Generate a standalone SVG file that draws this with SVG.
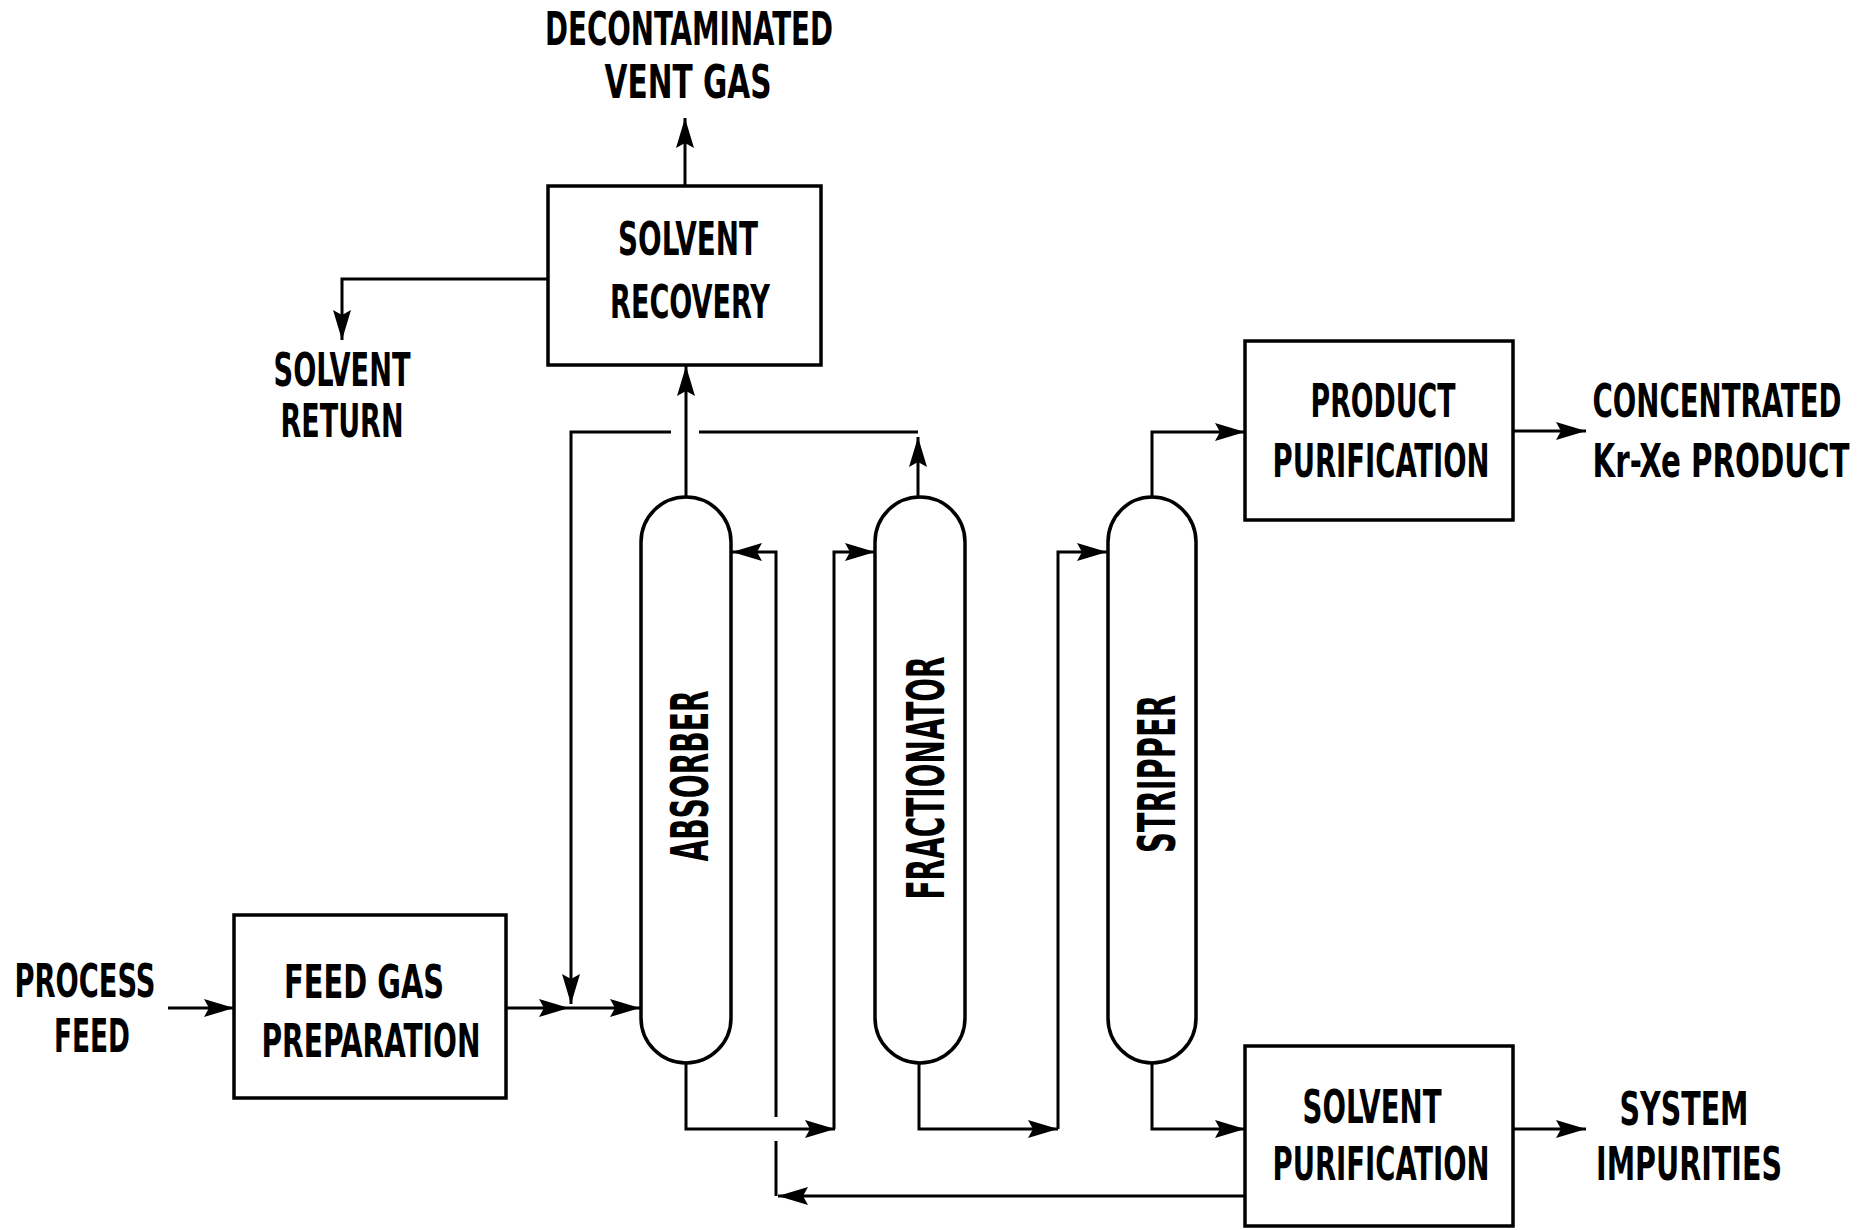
<svg xmlns="http://www.w3.org/2000/svg" width="1857" height="1230" viewBox="0 0 1857 1230">
<style>
.box{fill:none;stroke:#000;stroke-width:3.5}
.tube{fill:none;stroke:#000;stroke-width:3.5}
.ln{fill:none;stroke:#000;stroke-width:3}
.t{font-family:"DejaVu Sans Condensed","Liberation Sans Narrow","Liberation Sans",sans-serif;font-weight:bold;font-size:32px;fill:#000;text-anchor:middle}
.v{font-size:36px}
</style>
<defs>
<marker id="ah" viewBox="-32 -11 34 22" refX="0" refY="0" markerWidth="34" markerHeight="22" markerUnits="userSpaceOnUse" orient="auto">
<path d="M0,0 L-30,-9 L-25,0 L-30,9 z" fill="#000"/>
</marker>
</defs>
<rect width="1857" height="1230" fill="#fff"/>

<g id="connectors">
<path class="ln" d="M168,1008 H234" marker-end="url(#ah)"/>
<path class="ln" d="M506,1008 H569" marker-end="url(#ah)"/>
<path class="ln" d="M569,1008 H640" marker-end="url(#ah)"/>
<path class="ln" d="M918,432 H699"/>
<path class="ln" d="M671,432 H571 V1004" marker-end="url(#ah)"/>
<path class="ln" d="M918,497 V437" marker-end="url(#ah)"/>
<path class="ln" d="M686,497 V366" marker-end="url(#ah)"/>
<path class="ln" d="M685,186 V118" marker-end="url(#ah)"/>
<path class="ln" d="M548,279 H342 V340" marker-end="url(#ah)"/>
<path class="ln" d="M686,1063 V1129 H835" marker-end="url(#ah)"/>
<path class="ln" d="M834,1129 V552 H875" marker-end="url(#ah)"/>
<path class="ln" d="M1245,1196 H778" marker-end="url(#ah)"/>
<path class="ln" d="M776,1196 V1141"/>
<path class="ln" d="M776,1117 V552 H732" marker-end="url(#ah)"/>
<path class="ln" d="M919,1063 V1129 H1058" marker-end="url(#ah)"/>
<path class="ln" d="M1058,1129 V552 H1107" marker-end="url(#ah)"/>
<path class="ln" d="M1152,1063 V1129 H1245" marker-end="url(#ah)"/>
<path class="ln" d="M1152,497 V432 H1245" marker-end="url(#ah)"/>
<path class="ln" d="M1513,431 H1586" marker-end="url(#ah)"/>
<path class="ln" d="M1513,1129 H1586" marker-end="url(#ah)"/>
</g>

<g id="solvent-recovery">
<rect class="box" x="548" y="186" width="273" height="179"/>
<text class="t" transform="translate(688,255) scale(1,1.42)" textLength="140" lengthAdjust="spacingAndGlyphs">SOLVENT</text>
<text class="t" transform="translate(690,318) scale(1,1.42)" textLength="160" lengthAdjust="spacingAndGlyphs">RECOVERY</text>
</g>

<g id="feed-gas-preparation">
<rect class="box" x="234" y="915" width="272" height="183"/>
<text class="t" transform="translate(364,998) scale(1,1.42)" textLength="160" lengthAdjust="spacingAndGlyphs">FEED GAS</text>
<text class="t" transform="translate(371,1057) scale(1,1.42)" textLength="219" lengthAdjust="spacingAndGlyphs">PREPARATION</text>
</g>

<g id="absorber">
<rect class="tube" x="641" y="497" width="90" height="566" rx="45" ry="45"/>
<text class="t v" transform="translate(708,776) rotate(-90) scale(1,1.42)" textLength="171" lengthAdjust="spacingAndGlyphs">ABSORBER</text>
</g>

<g id="fractionator">
<rect class="tube" x="875" y="497" width="90" height="566" rx="45" ry="45"/>
<text class="t v" transform="translate(944,778) rotate(-90) scale(1,1.42)" textLength="243" lengthAdjust="spacingAndGlyphs">FRACTIONATOR</text>
</g>

<g id="stripper">
<rect class="tube" x="1108" y="497" width="88" height="566" rx="44" ry="45"/>
<text class="t v" transform="translate(1175,774) rotate(-90) scale(1,1.42)" textLength="158" lengthAdjust="spacingAndGlyphs">STRIPPER</text>
</g>

<g id="product-purification">
<rect class="box" x="1245" y="341" width="268" height="179"/>
<text class="t" transform="translate(1383,417) scale(1,1.42)" textLength="145" lengthAdjust="spacingAndGlyphs">PRODUCT</text>
<text class="t" transform="translate(1381,477) scale(1,1.42)" textLength="217" lengthAdjust="spacingAndGlyphs">PURIFICATION</text>
</g>

<g id="solvent-purification">
<rect class="box" x="1245" y="1046" width="268" height="180"/>
<text class="t" transform="translate(1372,1123) scale(1,1.42)" textLength="139" lengthAdjust="spacingAndGlyphs">SOLVENT</text>
<text class="t" transform="translate(1381,1180) scale(1,1.42)" textLength="217" lengthAdjust="spacingAndGlyphs">PURIFICATION</text>
</g>

<g id="vent-gas-label">
<text class="t" transform="translate(689,45) scale(1,1.42)" textLength="288" lengthAdjust="spacingAndGlyphs">DECONTAMINATED</text>
<text class="t" transform="translate(688,98) scale(1,1.42)" textLength="167" lengthAdjust="spacingAndGlyphs">VENT GAS</text>
</g>

<g id="solvent-return-label">
<text class="t" transform="translate(342,386) scale(1,1.42)" textLength="137" lengthAdjust="spacingAndGlyphs">SOLVENT</text>
<text class="t" transform="translate(342,437) scale(1,1.42)" textLength="123" lengthAdjust="spacingAndGlyphs">RETURN</text>
</g>

<g id="process-feed-label">
<text class="t" transform="translate(85,997) scale(1,1.42)" textLength="141" lengthAdjust="spacingAndGlyphs">PROCESS</text>
<text class="t" transform="translate(92,1052) scale(1,1.42)" textLength="76" lengthAdjust="spacingAndGlyphs">FEED</text>
</g>

<g id="product-label">
<text class="t" transform="translate(1717,417) scale(1,1.42)" textLength="249" lengthAdjust="spacingAndGlyphs">CONCENTRATED</text>
<text class="t" transform="translate(1721,477) scale(1,1.42)" textLength="257" lengthAdjust="spacingAndGlyphs">Kr-Xe PRODUCT</text>
</g>

<g id="impurities-label">
<text class="t" transform="translate(1684,1125) scale(1,1.42)" textLength="129" lengthAdjust="spacingAndGlyphs">SYSTEM</text>
<text class="t" transform="translate(1689,1180) scale(1,1.42)" textLength="186" lengthAdjust="spacingAndGlyphs">IMPURITIES</text>
</g>
</svg>
